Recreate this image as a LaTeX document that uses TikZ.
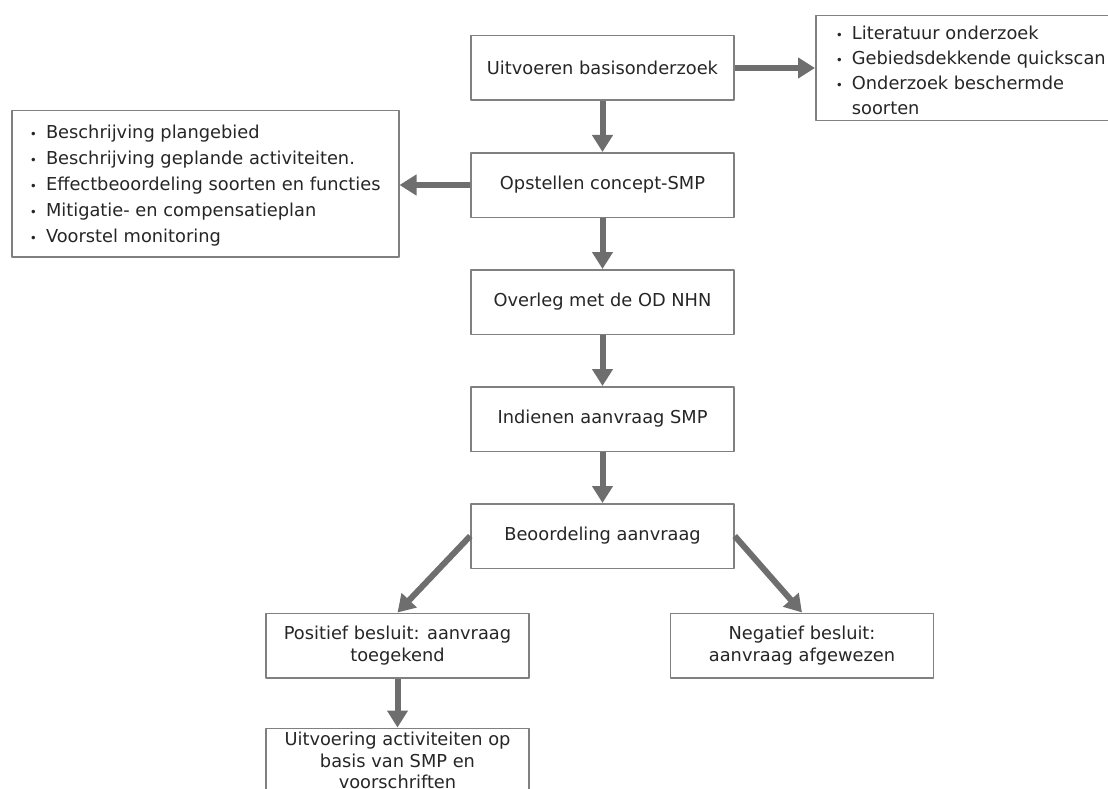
\documentclass[tikz,border=0pt]{standalone}
\usepackage{fontspec}
\setmainfont{DejaVu Sans}
\usepackage{tikz}
\usetikzlibrary{positioning}
\usetikzlibrary{arrows.meta}
\definecolor{randgrijs}{HTML}{808080}
\definecolor{pijlgrijs}{HTML}{6E6E6E}
\definecolor{tekstgrijs}{HTML}{262626}
\newcommand{\stip}{{\fontsize{12}{12}\selectfont\textbullet}}

\begin{document}
\begin{tikzpicture}[x=1pt,y=-1pt,line join=round,
  stap/.style={draw=randgrijs,line width=1.5pt,fill=white,text=tekstgrijs,
    minimum width=263pt,minimum height=64.5pt,align=center,inner sep=1pt,
    font=\fontsize{17.8}{21.5}\selectfont},
  lijst/.style={draw=randgrijs,line width=1.5pt,fill=white,text=tekstgrijs,
    anchor=north west,align=left,inner xsep=12pt,inner ysep=0pt,
    font=\fontsize{17.8}{26}\selectfont},
  pijl/.style={draw=pijlgrijs,line width=6pt,-{Triangle[width=20pt,length=17pt]}}]
\useasboundingbox (0,0) rectangle (1108,789);
\clip (0,0) rectangle (1108,789);
% hoofdlijn
\node[stap] (basis) at (602.5,68) {Uitvoeren basisonderzoek};
\node[stap,below=51pt of basis] (concept) {Opstellen concept-SMP};
\node[stap,below=51pt of concept] (overleg) {Overleg met de OD NHN};
\node[stap,below=51pt of overleg] (indienen) {Indienen aanvraag SMP};
\node[stap,below=51pt of indienen] (beoordeling) {Beoordeling aanvraag};
\node[stap] (positief) at (397.5,645.5) {Positief besluit: aanvraag\\toegekend};
\node[stap] (negatief) at (802,645.5) {Negatief besluit:\\aanvraag afgewezen};
\node[stap] (uitvoering) at (397.5,760.5) {Uitvoering activiteiten op\\basis van SMP en\\voorschriften};
% lijsten
\node[lijst,minimum width=310pt,minimum height=105pt,
  font=\fontsize{17.8}{25}\selectfont] (onderzoek) at (815,15) {%
  \raisebox{-4pt}[\height][\depth]{\begin{tabular}{@{}l@{\hspace{9pt}}l@{}}
  \stip & Literatuur onderzoek\\
  \stip & Gebiedsdekkende quickscan\\
  \stip & Onderzoek beschermde\\
        & soorten
  \end{tabular}}};
\node[lijst,minimum width=387pt,minimum height=146pt] (inhoud) at (11,110) {%
  \raisebox{-2pt}[\height][\depth]{\begin{tabular}{@{}l@{\hspace{9pt}}l@{}}
  \stip & Beschrijving plangebied\\
  \stip & Beschrijving geplande activiteiten.\\
  \stip & Effectbeoordeling soorten en functies\\
  \stip & Mitigatie- en compensatieplan\\
  \stip & Voorstel monitoring
  \end{tabular}}};
% pijlen
\draw[pijl] (basis) -- (concept);
\draw[pijl] (concept) -- (overleg);
\draw[pijl] (overleg) -- (indienen);
\draw[pijl] (indienen) -- (beoordeling);
\draw[pijl] (basis.east) -- (basis.east -| onderzoek.west);
\draw[pijl] (concept.west) -- (concept.west -| inhoud.east);
\draw[pijl] (beoordeling.west) -- (positief.north);
\draw[pijl] (beoordeling.east) -- (negatief.north);
\draw[pijl] (positief) -- (uitvoering);
\end{tikzpicture}
\end{document}
